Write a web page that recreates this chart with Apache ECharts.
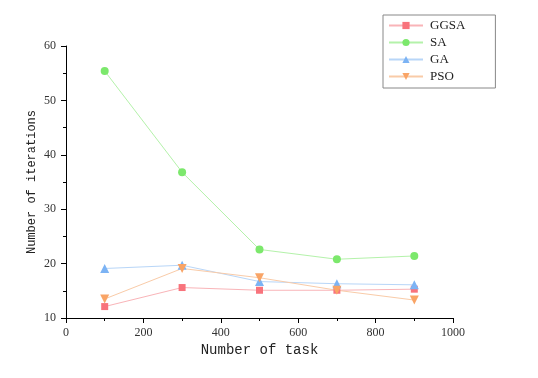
<!DOCTYPE html>
<html><head><meta charset="utf-8">
<script src="https://cdn.jsdelivr.net/npm/echarts@6/dist/echarts.min.js"></script>
<style>html,body{margin:0;padding:0;background:#fff}#c{width:538px;height:378px}</style>
</head><body><div id="c"></div>
<script>
const tasks = [100, 300, 500, 700, 900];
const ggsa = [12.1, 15.6, 15.1, 15.1, 15.3];
const sa = [55.4, 36.8, 22.6, 20.8, 21.4];
const ga = [19.1, 19.7, 16.7, 16.3, 16.1];
const pso = [13.5, 19.1, 17.4, 15.1, 13.3];
const seriesNames = ['GGSA', 'SA', 'GA', 'PSO'];

const mono = 'Liberation Mono';
const serif = 'Liberation Serif';
function mk(name, vals, color, lineColor, symbol, size, rot) {
  return {
    name: name, type: 'line',
    data: tasks.map((t, i) => [t, vals[i]]),
    symbol: symbol, symbolSize: size, symbolRotate: rot || 0,
    itemStyle: {color: color},
    lineStyle: {color: lineColor, width: 1},
    emphasis: {disabled: true}
  };
}
const chart = echarts.init(document.getElementById('c'));
chart.setOption({
  animation: false,
  backgroundColor: '#fff',
  grid: {left: 66, right: 85, top: 46, bottom: 60},
  legend: {
    orient: 'vertical', left: 383, top: 15,
    padding: [4, 30, 5, 5], itemGap: 4, itemWidth: 34, itemHeight: 9,
    borderColor: '#888', borderWidth: 1,
    textStyle: {fontFamily: serif, fontSize: 13, color: '#222', padding: [0, 0, 0, 2]},
    data: seriesNames.map(n => ({name: n}))
  },
  xAxis: {
    type: 'value', min: 0, max: 1000, interval: 200,
    name: 'Number of task', nameLocation: 'middle', nameGap: 25,
    nameMoveOverlap: false,
    nameTextStyle: {fontFamily: mono, fontSize: 14, color: '#222'},
    axisLine: {lineStyle: {color: '#000', width: 1}},
    axisTick: {show: true, inside: false, length: 5, lineStyle: {color: '#000'}},
    minorTick: {show: true, splitNumber: 2, length: 3, lineStyle: {color: '#000'}},
    axisLabel: {fontFamily: serif, fontSize: 12, color: '#333', margin: 9, formatter: v => String(v)},
    splitLine: {show: false}
  },
  yAxis: {
    type: 'value', min: 10, max: 60, interval: 10,
    name: 'Number of iterations', nameLocation: 'middle', nameGap: 28,
    nameMoveOverlap: false,
    nameTextStyle: {fontFamily: mono, fontSize: 12, color: '#222'},
    axisLine: {show: true, lineStyle: {color: '#000', width: 1}},
    axisTick: {show: true, inside: false, length: 5, lineStyle: {color: '#000'}},
    minorTick: {show: true, splitNumber: 2, length: 3, lineStyle: {color: '#000'}},
    axisLabel: {fontFamily: serif, fontSize: 12, color: '#333', margin: 10},
    splitLine: {show: false}
  },
  series: [
    mk('GGSA', ggsa, '#f8737c', '#f9b4b8', 'rect', 7),
    mk('SA', sa, '#7ce86c', '#b4f2aa', 'circle', 8),
    mk('GA', ga, '#7cb3f4', '#b8d6f8', 'triangle', 9),
    mk('PSO', pso, '#f9a466', '#f9cba8', 'triangle', 9, 180)
  ]
});
</script></body></html>
